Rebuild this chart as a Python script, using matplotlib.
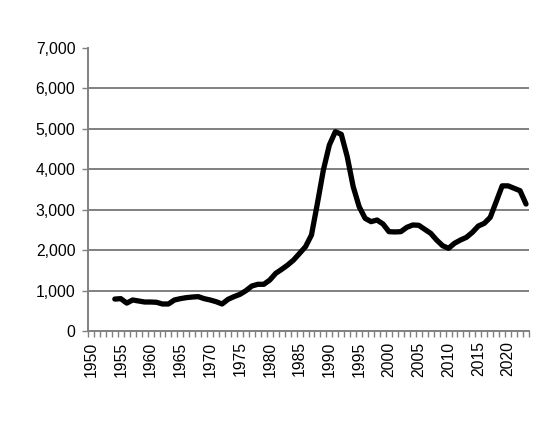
import matplotlib
matplotlib.use("Agg")
import matplotlib.pyplot as plt
import numpy as np

years = list(range(1954, 2024))
values = [790, 800, 690, 767, 742, 717, 717, 710, 668, 668,
          767, 800, 825, 840, 850, 800, 767, 725, 668, 783,
          850, 907, 997, 1113, 1155, 1155, 1260, 1426, 1525, 1632,
          1756, 1920, 2085, 2375, 3160, 3985, 4600, 4930, 4865, 4310,
          3570, 3075, 2787, 2705, 2745, 2647, 2457, 2450, 2457, 2565,
          2622, 2615, 2515, 2417, 2250, 2110, 2045, 2170, 2250, 2317,
          2440, 2597, 2663, 2812, 3200, 3590, 3590, 3530, 3470, 3140]
label_years = list(range(1950, 2021, 5))
y_ticks = [0, 1000, 2000, 3000, 4000, 5000, 6000, 7000]

plt.rcParams['font.family'] = ['Liberation Sans', 'DejaVu Sans']
fig = plt.figure(figsize=(5.54, 4.22), dpi=100)
ax = fig.add_axes([88/554, 1 - 331/422, (529-88)/554, (331-48)/422])

grey = '#808080'
ax.plot(years, values, color='black', lw=3.8, solid_capstyle='round',
        solid_joinstyle='round', zorder=3)

ax.set_xlim(1949.5, 2023.5)
ax.set_ylim(0, 7000)
ax.set_yticks(y_ticks)
ax.set_yticklabels([f"{v:,}" for v in y_ticks], fontsize=11.3)
for v in y_ticks[1:-1]:
    ax.axhline(v, color=grey, lw=1.4, zorder=1)

ax.set_xticks(label_years)
ax.set_xticklabels([str(y) for y in label_years], rotation=90, fontsize=11.3)
ax.set_xticks(np.arange(1949.5, 2024.5, 1.0), minor=True)
ax.tick_params(axis='x', which='major', length=0, pad=7.5)
ax.tick_params(axis='x', which='minor', length=4, width=1, color=grey, direction='out')
ax.tick_params(axis='y', which='major', length=4, width=1, color=grey, direction='out', pad=5)

for s in ['top', 'right']:
    ax.spines[s].set_visible(False)
for s in ['left', 'bottom']:
    ax.spines[s].set_color(grey)
    ax.spines[s].set_linewidth(1.4)

fig.savefig('out.png', dpi=100)
